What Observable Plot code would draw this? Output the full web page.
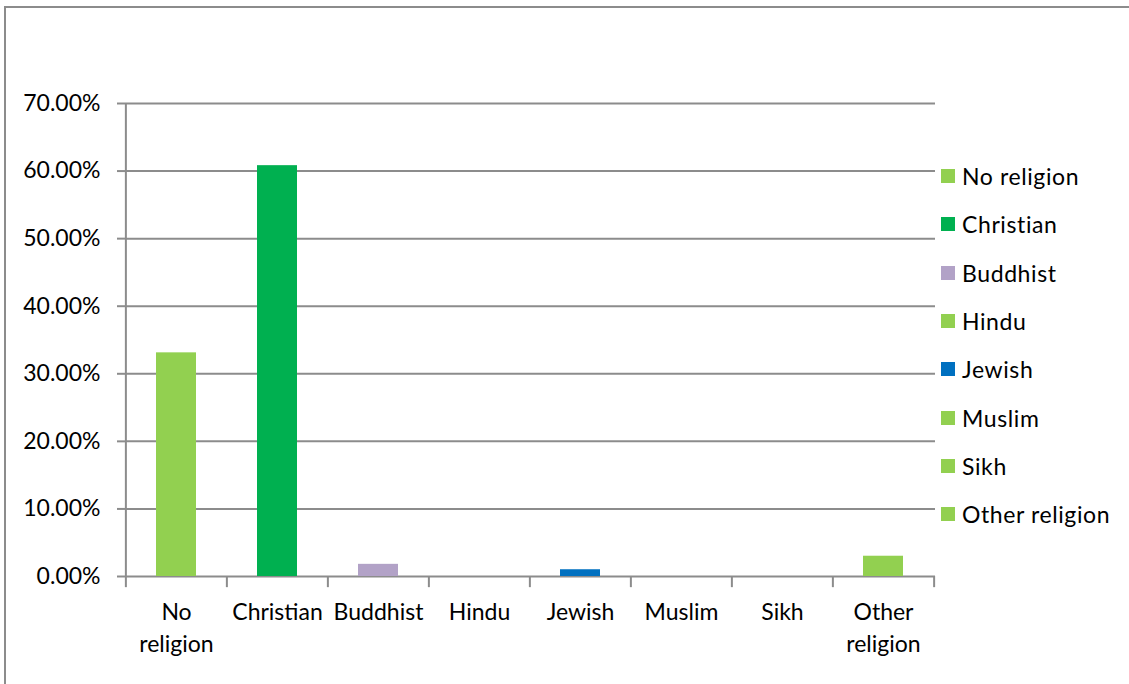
<!DOCTYPE html>
<html>
<head>
<meta charset="utf-8">
<script src="https://cdn.jsdelivr.net/npm/d3@7"></script>
<script src="https://cdn.jsdelivr.net/npm/@observablehq/plot@0.6"></script>
<style>
  html, body { margin: 0; padding: 0; background: #fff; }
  #wrap { position: relative; width: 1129px; height: 684px; overflow: hidden; font-family: Lato, "Open Sans", sans-serif; }
  #border { position: absolute; left: 4px; top: 6px; width: 1300px; height: 900px; border-left: 2px solid #8c8c8c; border-top: 2px solid #8c8c8c; }
  #chart { position: absolute; left: 0; top: 0; }
  #legend { position: absolute; left: 941px; top: 152px; }
  .item { display: flex; align-items: center; height: 48.3px; font-size: 23px; color: #000; white-space: nowrap; letter-spacing: 0.6px; }
  .sw { width: 14px; height: 14px; margin-right: 7px; flex: none; }
</style>
</head>
<body>
<div id="wrap">
  <div id="border"></div>
  <div id="chart"></div>
  <div id="legend"></div>
</div>
<script>
const categories = ["No religion", "Christian", "Buddhist", "Hindu", "Jewish", "Muslim", "Sikh", "Other religion"];
const axisLabels = ["No\nreligion", "Christian", "Buddhist", "Hindu", "Jewish", "Muslim", "Sikh", "Other\nreligion"];
const values = [0.331, 0.608, 0.018, 0.0, 0.010, 0.0, 0.0, 0.030];
const colors = ["#92D050", "#00B050", "#B2A2C7", "#92D050", "#0070C0", "#92D050", "#92D050", "#92D050"];
const yTicks = [0, 0.1, 0.2, 0.3, 0.4, 0.5, 0.6, 0.7];

const data = categories.map((c, i) => ({cat: c, value: values[i]}));
const labelOf = new Map(categories.map((c, i) => [c, axisLabels[i]]));

const W = 1129, H = 684;
const mL = 125, mR = 194, mT = 103, mB = 108;
const step = (W - mL - mR) / categories.length;
const grid = "#8c8c8c";

const chart = Plot.plot({
  width: W,
  height: H,
  marginLeft: mL,
  marginRight: mR,
  marginTop: mT,
  marginBottom: mB,
  style: {fontFamily: "Lato, 'Open Sans', sans-serif", fontSize: "23px", color: "#000", background: "transparent", overflow: "visible"},
  x: {domain: categories, paddingInner: 0.6, paddingOuter: 0.3, axis: null},
  y: {domain: [0, 0.7], axis: null},
  color: {domain: categories, range: colors},
  marks: [
    Plot.ruleY(yTicks, {y: d => d, stroke: grid, strokeWidth: 2}),
    Plot.axisY({ticks: yTicks, tickFormat: d3.format(".2%"), tickSize: 8, tickPadding: 17, stroke: grid, strokeWidth: 2, fill: "#000", label: null}),
    Plot.ruleX([categories[0]], {x: d => d, dx: -step / 2, y1: 0, y2: 0.7, stroke: grid, strokeWidth: 2}),
    Plot.ruleX(categories, {x: d => d, dx: -step / 2, y1: 0, y2: -0.0165, stroke: grid, strokeWidth: 2}),
    Plot.ruleX([categories[categories.length - 1]], {x: d => d, dx: step / 2, y1: 0, y2: -0.0165, stroke: grid, strokeWidth: 2}),
    Plot.barY(data, {x: "cat", y: "value", fill: "cat"}),
    Plot.axisX({tickSize: 0, tickPadding: 21, tickFormat: d => labelOf.get(d), lineHeight: 1.38, fill: "#000", label: null})
  ]
});
document.getElementById("chart").appendChild(chart);

const legend = document.getElementById("legend");
categories.forEach((c, i) => {
  const item = document.createElement("div");
  item.className = "item";
  const sw = document.createElement("span");
  sw.className = "sw";
  sw.style.background = colors[i];
  const t = document.createElement("span");
  t.textContent = c;
  item.appendChild(sw);
  item.appendChild(t);
  legend.appendChild(item);
});
</script>
</body>
</html>
